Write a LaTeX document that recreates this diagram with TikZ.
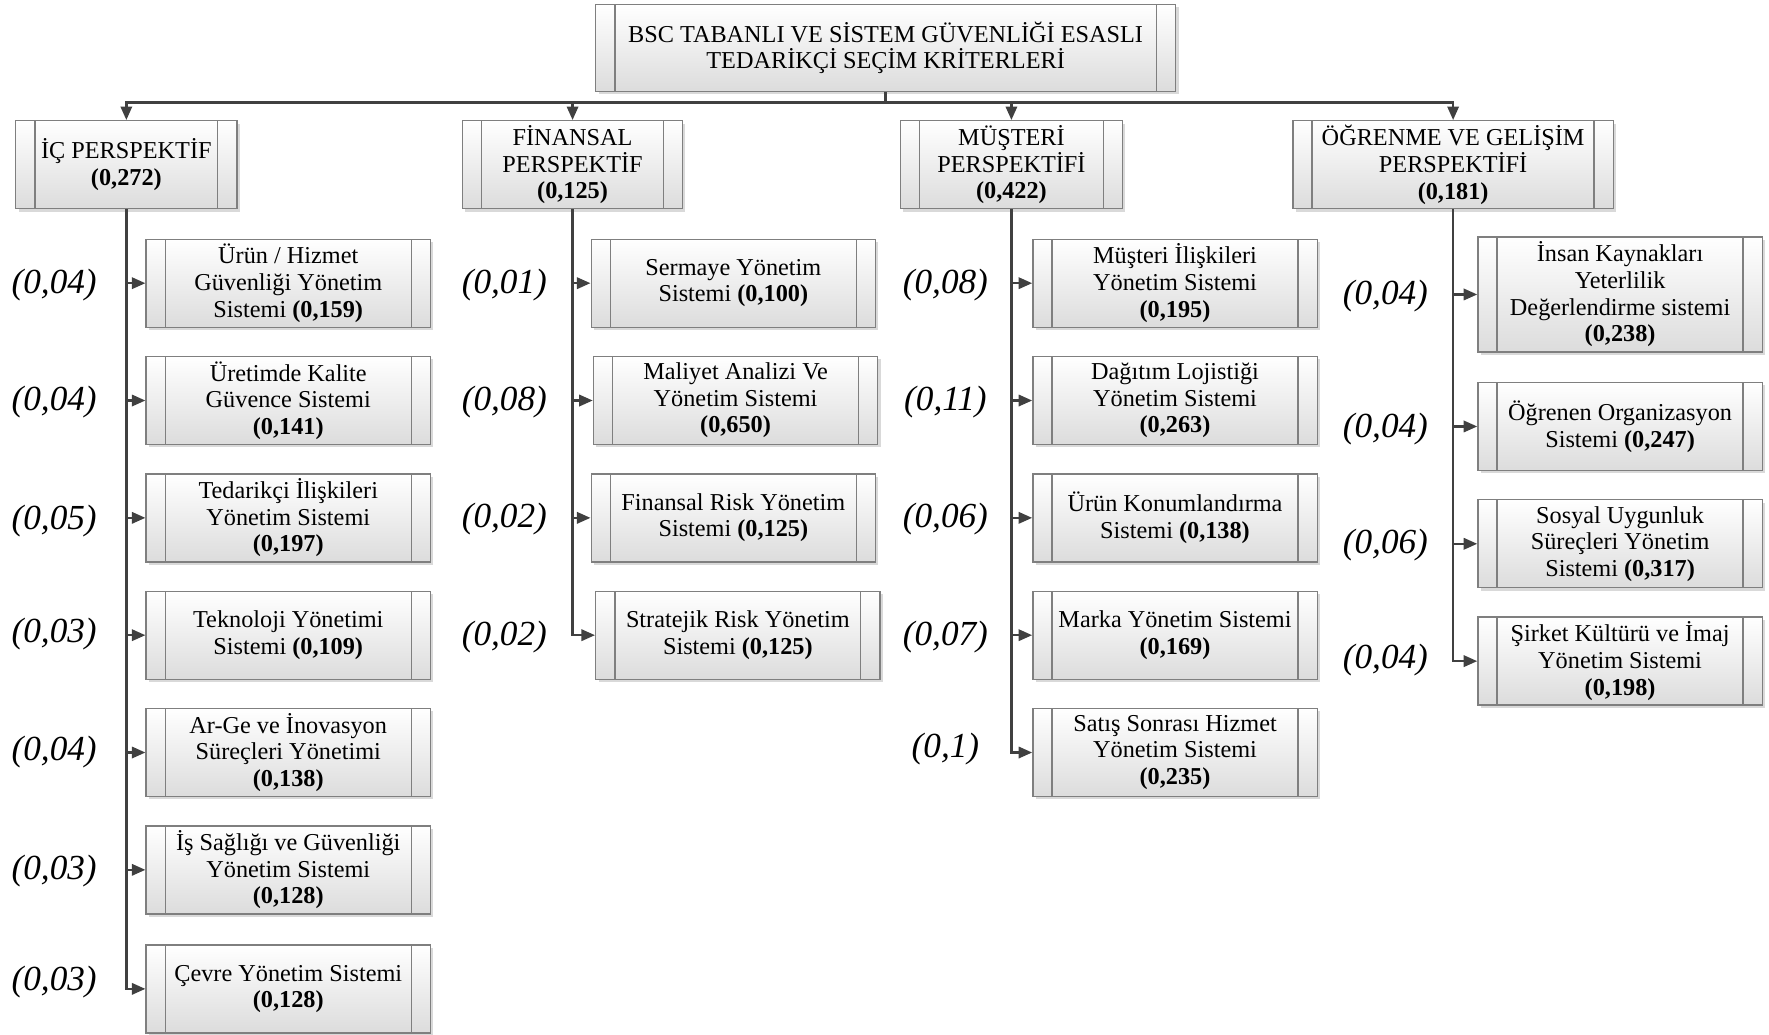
\documentclass[tikz,border=0pt]{standalone}
\usepackage{fontspec}
\setmainfont{Liberation Serif}[ItalicFont={Liberation Serif Italic},BoldFont={Liberation Serif Bold}]
\newfontfamily\lblfont{Liberation Serif Italic}
\usetikzlibrary{arrows.meta,shadows}
\definecolor{boxline}{HTML}{7F7F7F}
\definecolor{connc}{HTML}{404040}
\definecolor{boxbot}{HTML}{DCDCDC}
\tikzset{
 pbox/.style={draw=boxline, line width=0.6pt, top color=white, bottom color=boxbot,
   align=center, inner sep=0pt, font=\fontsize{10.75}{11.8}\selectfont,
   drop shadow={shadow xshift=1.3pt, shadow yshift=-1.3pt, fill=black, opacity=0.15},
   path picture={\draw[boxline,line width=0.6pt]
     ([xshift=8.5pt]path picture bounding box.north west) -- ([xshift=8.5pt]path picture bounding box.south west)
     ([xshift=-8.5pt]path picture bounding box.north east) -- ([xshift=-8.5pt]path picture bounding box.south east);}},
 sub/.style={pbox, minimum width=126pt, minimum height=39pt},
 conn/.style={draw=connc, line width=1.1pt, -{Triangle[length=6pt,width=5pt]}},
 plain/.style={draw=connc, line width=1.1pt},
 wlabel/.style={font=\lblfont\fontsize{15.6}{16}\selectfont, inner sep=0pt}
}
\begin{document}
\begin{tikzpicture}[x=0.5pt,y=-0.5pt]
\fill[white] (0,0) rectangle (1568,917);
\useasboundingbox (0,0) rectangle (1568,917);
% root
\node[pbox, minimum width=257pt, minimum height=38.5pt] (root) at (785,42.5)
  {BSC TABANLI VE SİSTEM GÜVENLİĞİ ESASLI\\TEDARİKÇİ SEÇİM KRİTERLERİ};
% perspectives
\node[pbox, minimum width=98pt, minimum height=39pt] (ic) at (112,146) {İÇ PERSPEKTİF\\\textbf{(0,272)}};
\node[pbox, minimum width=97.5pt, minimum height=39pt] (fin) at (507.5,146) {FİNANSAL\\PERSPEKTİF\\\textbf{(0,125)}};
\node[pbox, minimum width=98.5pt, minimum height=39pt] (mus) at (896.5,146) {MÜŞTERİ\\PERSPEKTİFİ\\\textbf{(0,422)}};
\node[pbox, minimum width=142pt, minimum height=39pt] (ogr) at (1288,146) {ÖĞRENME VE GELİŞİM\\PERSPEKTİFİ\\\textbf{(0,181)}};
\coordinate (bus) at (785,91);
\draw[plain] (root.south) -- (bus);
\foreach \n in {ic,fin,mus,ogr} \draw[conn] (bus) -| (\n.north);
% IC column
\node[sub] (ic1) at (255.5,251) {Ürün / Hizmet\\Güvenliği Yönetim\\Sistemi \textbf{(0,159)}};
\node[sub] (ic2) at (255.5,355) {Üretimde Kalite\\Güvence Sistemi\\\textbf{(0,141)}};
\node[sub] (ic3) at (255.5,459) {Tedarikçi İlişkileri\\Yönetim Sistemi\\\textbf{(0,197)}};
\node[sub] (ic4) at (255.5,563) {Teknoloji Yönetimi\\Sistemi \textbf{(0,109)}};
\node[sub] (ic5) at (255.5,667) {Ar-Ge ve İnovasyon\\Süreçleri Yönetimi\\\textbf{(0,138)}};
\node[sub] (ic6) at (255.5,771) {İş Sağlığı ve Güvenliği\\Yönetim Sistemi\\\textbf{(0,128)}};
\node[sub] (ic7) at (255.5,876.5) {Çevre Yönetim Sistemi\\\textbf{(0,128)}};
\foreach \i in {1,...,7} \draw[conn] (ic.south) |- (ic\i.west);
\node[wlabel] (lic1) at (48,253) {(0,04)};
\node[wlabel] (lic2) at (48,356) {(0,04)};
\node[wlabel] (lic3) at (48,462) {(0,05)};
\node[wlabel] (lic4) at (48,562) {(0,03)};
\node[wlabel] (lic5) at (48,667) {(0,04)};
\node[wlabel] (lic6) at (48,772) {(0,03)};
\node[wlabel] (lic7) at (48,870) {(0,03)};
% FIN column
\node[sub] (fin1) at (650,251) {Sermaye Yönetim\\Sistemi \textbf{(0,100)}};
\node[sub] (fin2) at (652,355) {Maliyet Analizi Ve\\Yönetim Sistemi\\\textbf{(0,650)}};
\node[sub] (fin3) at (650,459) {Finansal Risk Yönetim\\Sistemi \textbf{(0,125)}};
\node[sub] (fin4) at (654,563) {Stratejik Risk Yönetim\\Sistemi \textbf{(0,125)}};
\foreach \i in {1,...,4} \draw[conn] (fin.south) |- (fin\i.west);
\node[wlabel] (lfin1) at (447,253) {(0,01)};
\node[wlabel] (lfin2) at (447,356) {(0,08)};
\node[wlabel] (lfin3) at (447,460) {(0,02)};
\node[wlabel] (lfin4) at (447,565) {(0,02)};
% MUS column
\node[sub] (mus1) at (1041.5,251) {Müşteri İlişkileri\\Yönetim Sistemi\\\textbf{(0,195)}};
\node[sub] (mus2) at (1041.5,355) {Dağıtım Lojistiği\\Yönetim Sistemi\\\textbf{(0,263)}};
\node[sub] (mus3) at (1041.5,459) {Ürün Konumlandırma\\Sistemi \textbf{(0,138)}};
\node[sub] (mus4) at (1041.5,563) {Marka Yönetim Sistemi\\\textbf{(0,169)}};
\node[sub] (mus5) at (1041.5,667) {Satış Sonrası Hizmet\\Yönetim Sistemi\\\textbf{(0,235)}};
\foreach \i in {1,...,5} \draw[conn] (mus.south) |- (mus\i.west);
\node[wlabel] (lmus1) at (838,253) {(0,08)};
\node[wlabel] (lmus2) at (838,356) {(0,11)};
\node[wlabel] (lmus3) at (838,460) {(0,06)};
\node[wlabel] (lmus4) at (838,565) {(0,07)};
\node[wlabel] (lmus5) at (838,664) {(0,1)};
% OGR column
\node[pbox, minimum width=126pt, minimum height=51pt] (ogr1) at (1436,261) {İnsan Kaynakları\\Yeterlilik\\Değerlendirme sistemi\\\textbf{(0,238)}};
\node[sub] (ogr2) at (1436,378) {Öğrenen Organizasyon\\Sistemi \textbf{(0,247)}};
\node[sub] (ogr3) at (1436,482) {Sosyal Uygunluk\\Süreçleri Yönetim\\Sistemi \textbf{(0,317)}};
\node[sub] (ogr4) at (1436,586) {Şirket Kültürü ve İmaj\\Yönetim Sistemi\\\textbf{(0,198)}};
\foreach \i in {1,...,4} \draw[conn] (ogr.south) |- (ogr\i.west);
\node[wlabel] (logr1) at (1228,262) {(0,04)};
\node[wlabel] (logr2) at (1228,380) {(0,04)};
\node[wlabel] (logr3) at (1228,483) {(0,06)};
\node[wlabel] (logr4) at (1228,585) {(0,04)};
\end{tikzpicture}
\end{document}
